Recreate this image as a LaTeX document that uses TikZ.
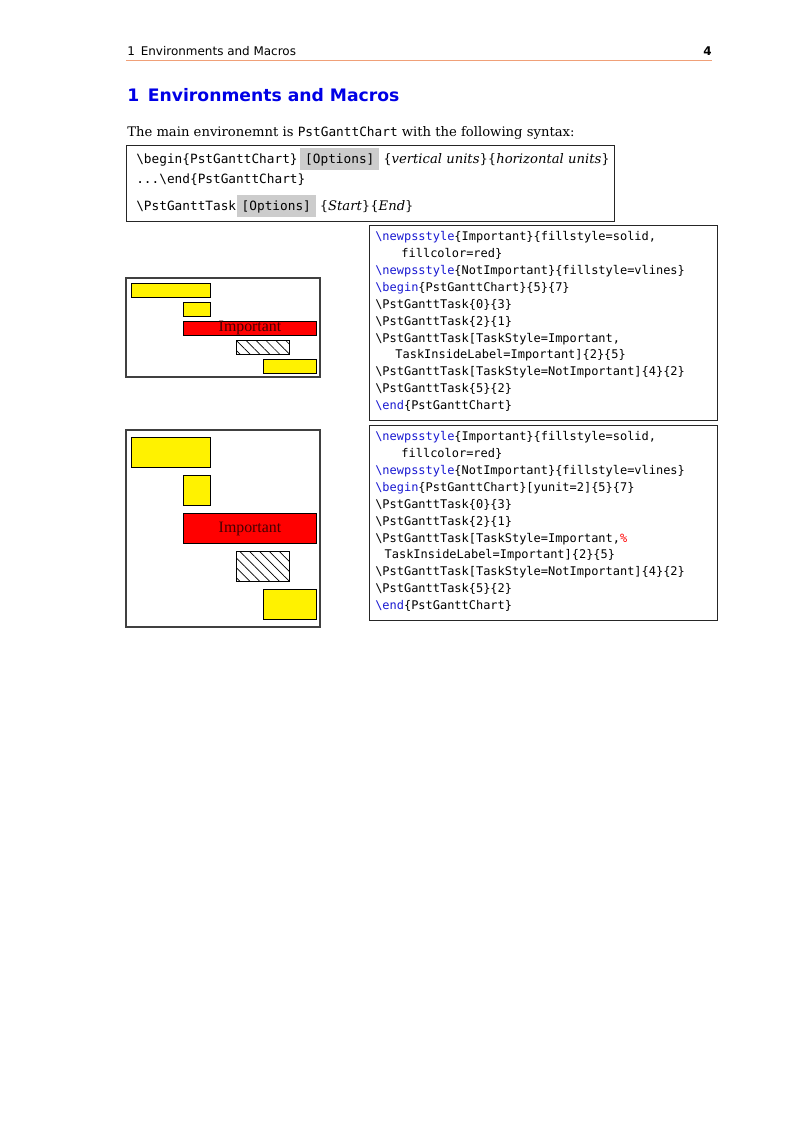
\documentclass[tikz,border=0pt]{standalone}
\usepackage{fontspec}
\setmainfont{DejaVu Serif}
\setsansfont{DejaVu Sans}
\setmonofont{DejaVu Sans Mono}
\newfontfamily\timesfont{Liberation Serif}
\usepackage{xcolor}
\usetikzlibrary{positioning}
\usetikzlibrary{patterns.meta}

\definecolor{headblue}{RGB}{0,0,230}
\definecolor{kwblue}{RGB}{25,25,210}
\definecolor{rulecolor}{RGB}{240,160,120}
\definecolor{optgray}{RGB}{204,204,204}
\definecolor{labeldark}{RGB}{70,0,0}
\newcommand{\BS}{\textbackslash}
\newcommand{\kw}[1]{\textcolor{kwblue}{\textbackslash #1}}

\begin{document}
\begin{tikzpicture}[%
    x=0.7441pt, y=-0.7441pt,
    every node/.style={inner sep=0pt},
    mono/.style={font=\ttfamily\fontsize{9.5}{12}\selectfont},
    code/.style={font=\ttfamily\fontsize{8.9}{12.58}\selectfont,align=left,anchor=base west},
    optbox/.style={mono,fill=optgray,inner xsep=3.7pt,text height=10.8pt,text depth=5pt},
    serif/.style={font=\fontsize{9.8}{12}\selectfont},
    chartframe/.style={draw=black!75,line width=0.8pt},
    codeframe/.style={draw=black!85,line width=0.7pt},
    task/.style={draw,line width=0.6pt,fill=yellow},
    important/.style={task,fill=red},
    notimportant/.style={draw,line width=0.6pt,pattern={Lines[angle=-45,distance=5.2pt,line width=0.5pt]}},
    tasklabel/.style={font=\timesfont\fontsize{11.8}{14}\selectfont,text=labeldark,anchor=base}
]
        \useasboundingbox[fill=white] (0,0) rectangle (800,1132);

        \node[anchor=base west,font=\sffamily\fontsize{8.9}{11}\selectfont] (runhead) at (127,55) {1\enskip Environments and Macros};
        \node[anchor=base east,font=\sffamily\bfseries\fontsize{8.9}{11}\selectfont] (pagenum) at (712,55) {4};
        \draw[rulecolor,line width=0.7pt] (126,60) -- (712,60);

        \node[anchor=base west,text=headblue,font=\sffamily\bfseries\fontsize{12.8}{15}\selectfont] (sectitle) at (127,101.5) {1\enskip Environments and Macros};

        \node[serif,anchor=base west] (intro) at (127,136) {The main environemnt is {\ttfamily\fontsize{9.5}{12}\selectfont PstGanttChart} with the following syntax:};

        \draw[codeframe] (126,145) rectangle (614,221);
        \node[mono,anchor=base west] (begsyn) at (136,163) {\BS begin\{PstGanttChart\}};
        \node[optbox,base right=1.5pt of begsyn] (optA) {[Options]};
        \node[serif,base right=2.5pt of optA] (argA) {\{\textit{vertical units}\}\{\textit{horizontal units}\}};
        \node[mono,anchor=base west] (endsyn) at (136,183) {...\BS end\{PstGanttChart\}};
        \node[mono,anchor=base west] (tasksyn) at (136,210) {\BS PstGanttTask};
        \node[optbox,base right=0pt of tasksyn] (optB) {[Options]};
        \node[serif,base right=2.5pt of optB] (argB) {\{\textit{Start}\}\{\textit{End}\}};

        \draw[chartframe] (126,278) rectangle (320,377);
        \path[task] (131,283) rectangle (210.3,297);
        \path[task] (183.9,302) rectangle (210.3,316);
        \path[important] (183.9,321) rectangle (316,335);
        \path[notimportant] (236.7,340) rectangle (289.6,354);
        \path[task] (263.2,359) rectangle (316,373);
        \node[tasklabel] (labA) at (250,331.7) {Important};

        \draw[codeframe] (369,225) rectangle (717,420);
        \node[code] (codeA) at (375,409.7) {%
\kw{newpsstyle}\{Important\}\{fillstyle=solid,\\
\hspace*{19.5pt}fillcolor=red\}\\
\kw{newpsstyle}\{NotImportant\}\{fillstyle=vlines\}\\
\kw{begin}\{PstGanttChart\}\{5\}\{7\}\\
\BS PstGanttTask\{0\}\{3\}\\
\BS PstGanttTask\{2\}\{1\}\\
\BS PstGanttTask[TaskStyle=Important,\\
\hspace*{15pt}TaskInsideLabel=Important]\{2\}\{5\}\\
\BS PstGanttTask[TaskStyle=NotImportant]\{4\}\{2\}\\
\BS PstGanttTask\{5\}\{2\}\\
\kw{end}\{PstGanttChart\}};

        \draw[chartframe] (126,430) rectangle (320,627);
        \path[task] (131,437) rectangle (210.3,467);
        \path[task] (183.9,475) rectangle (210.3,505);
        \path[important] (183.9,513) rectangle (316,543);
        \path[notimportant] (236.7,551) rectangle (289.6,581);
        \path[task] (263.2,589) rectangle (316,619);
        \node[tasklabel] (labB) at (250,532) {Important};

        \draw[codeframe] (369,425) rectangle (717,620);
        \node[code] (codeB) at (375,609.7) {%
\kw{newpsstyle}\{Important\}\{fillstyle=solid,\\
\hspace*{19.5pt}fillcolor=red\}\\
\kw{newpsstyle}\{NotImportant\}\{fillstyle=vlines\}\\
\kw{begin}\{PstGanttChart\}[yunit=2]\{5\}\{7\}\\
\BS PstGanttTask\{0\}\{3\}\\
\BS PstGanttTask\{2\}\{1\}\\
\BS PstGanttTask[TaskStyle=Important,\textcolor{red}{\%}\\
\hspace*{7pt}TaskInsideLabel=Important]\{2\}\{5\}\\
\BS PstGanttTask[TaskStyle=NotImportant]\{4\}\{2\}\\
\BS PstGanttTask\{5\}\{2\}\\
\kw{end}\{PstGanttChart\}};
\end{tikzpicture}
\end{document}
